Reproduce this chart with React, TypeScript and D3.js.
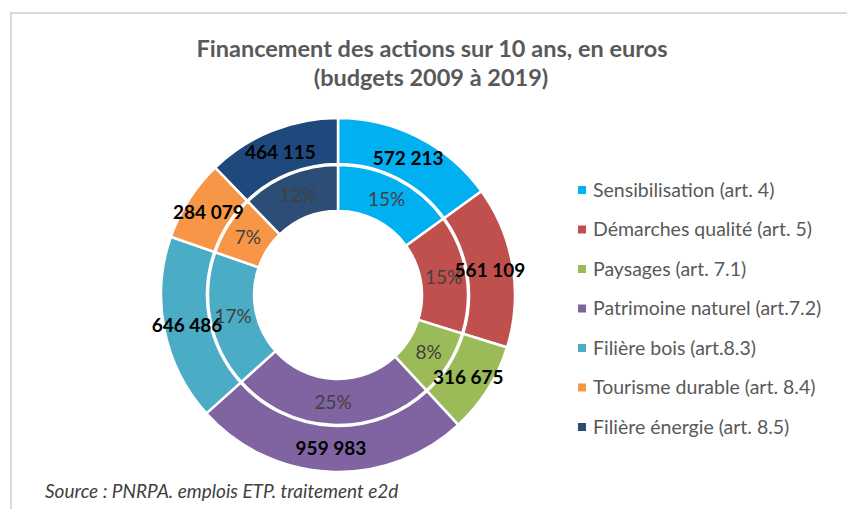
import React from "react";
import * as d3 from "d3";

const categories = [
  "Sensibilisation (art. 4)",
  "Démarches qualité (art. 5)",
  "Paysages (art. 7.1)",
  "Patrimoine naturel (art.7.2)",
  "Filière bois (art.8.3)",
  "Tourisme durable (art. 8.4)",
  "Filière énergie (art. 8.5)",
];
const values = [572213, 561109, 316675, 959983, 646486, 284079, 464115];
const outerColors = ["#00B0F0", "#C0504D", "#9BBB59", "#8064A2", "#4BACC6", "#F79646", "#1F497D"];
const innerColors = ["#00B0F0", "#C0504D", "#9BBB59", "#8064A2", "#4BACC6", "#F79646", "#2C4D75"];
const titleLines = ["Financement des actions sur 10 ans, en euros", "(budgets 2009 à 2019)"];
const sourceText = "Source : PNRPA. emplois ETP. traitement e2d";

const W = 847;
const H = 509;
const cx = 338;
const cy = 295;
const font = "Lato, 'Open Sans', sans-serif";

export default function App() {
  const total = d3.sum(values);
  const pie = d3.pie<number>().sort(null).value((d) => d);
  const arcs = pie(values);
  const outerArc = d3.arc<d3.PieArcDatum<number>>().innerRadius(131).outerRadius(177);
  const innerArc = d3.arc<d3.PieArcDatum<number>>().innerRadius(84).outerRadius(130);
  const fmt = (v: number) => d3.format(",")(v).replace(/,/g, " ");
  const pct = (v: number) => `${Math.round((v / total) * 100)}%`;
  const legendY = d3.scalePoint<string>().domain(categories).range([190, 427]);

  return (
    <svg width={W} height={H} style={{ position: "absolute", left: 0, top: 0, background: "#fff" }}>
      <rect x={0} y={0} width={W} height={H} fill="#fff" />
      <line x1={10} y1={13} x2={W} y2={13} stroke="#d9d9d9" strokeWidth={2} />
      <line x1={11} y1={12} x2={11} y2={H} stroke="#d9d9d9" strokeWidth={2} />
      <text x={432} y={57} textAnchor="middle" fontFamily={font} fontWeight="bold" fontSize={23.5} fill="#595959">
        {titleLines[0]}
      </text>
      <text x={431} y={86} textAnchor="middle" fontFamily={font} fontWeight="bold" fontSize={23.5} fill="#595959">
        {titleLines[1]}
      </text>
      <g transform={`translate(${cx},${cy})`}>
        {arcs.map((a, i) => (
          <path key={"i" + i} d={innerArc(a) || ""} fill={innerColors[i]} stroke="#fff" strokeWidth={2.5} />
        ))}
        {arcs.map((a, i) => (
          <path key={"o" + i} d={outerArc(a) || ""} fill={outerColors[i]} stroke="#fff" strokeWidth={2.5} />
        ))}
        {arcs.map((a, i) => {
          const [x, y] = innerArc.centroid(a);
          return (
            <text key={"pi" + i} x={x} y={y} dy="0.35em" textAnchor="middle" fontFamily={font} fontSize={19} fill="#404040">
              {pct(a.data)}
            </text>
          );
        })}
        {arcs.map((a, i) => {
          const [x, y] = outerArc.centroid(a);
          return (
            <text key={"vo" + i} x={x} y={y} dy="0.35em" textAnchor="middle" fontFamily={font} fontWeight="bold" fontSize={19} fill="#000">
              {fmt(a.data)}
            </text>
          );
        })}
      </g>
      {categories.map((c, i) => (
        <g key={c} transform={`translate(0,${legendY(c)})`}>
          <rect x={578} y={-4} width={8} height={8} fill={innerColors[i]} />
          <text x={593} y={0} dy="0.35em" fontFamily={font} fontSize={19.5} fill="#595959">
            {c}
          </text>
        </g>
      ))}
      <text x={45} y={498} fontFamily={font} fontStyle="italic" fontSize={19} fill="#404040">
        {sourceText}
      </text>
    </svg>
  );
}
